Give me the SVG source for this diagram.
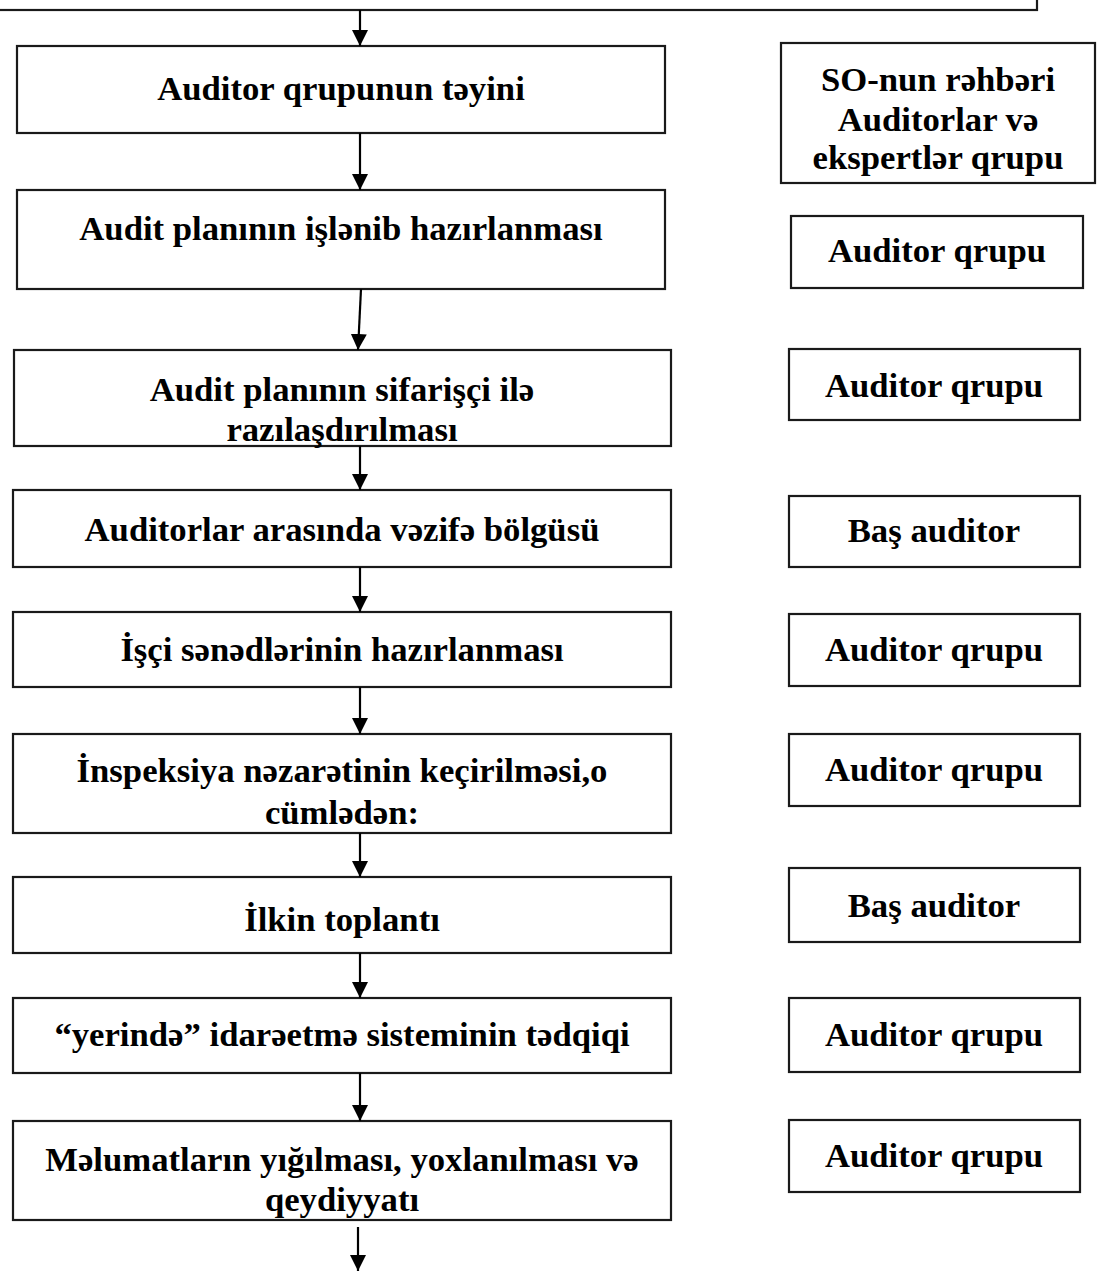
<svg xmlns="http://www.w3.org/2000/svg" width="1099" height="1271" viewBox="0 0 1099 1271">
<style>
.box{fill:#fff;stroke:#1a1a1a;stroke-width:2.2}
.t{font-family:"Liberation Serif","Times New Roman",serif;font-weight:bold;font-size:34.7px;fill:#000;text-anchor:middle}
.c{stroke:#000;stroke-width:2.2;fill:none;marker-end:url(#ah)}
</style>
<defs>
<marker id="ah" markerUnits="userSpaceOnUse" markerWidth="16" markerHeight="16" refX="16" refY="8" orient="auto">
<path d="M0,0 L16,8 L0,16 z" fill="#000"/>
</marker>
</defs>
<rect width="1099" height="1271" fill="#fff"/>
<g font-family="Liberation Serif, Times New Roman, serif" font-weight="bold">
<g id="top"><rect class="box" x="-10" y="-30" width="1047" height="40"/></g>
<g id="n1"><rect class="box" x="17" y="46" width="648" height="87"/><text class="t" x="341" y="100">Auditor qrupunun təyini</text></g>
<g id="r1"><rect class="box" x="781" y="43" width="314" height="140"/><text class="t" x="938" y="91">SO-nun rəhbəri</text><text class="t" x="938" y="131">Auditorlar və</text><text class="t" x="938" y="169">ekspertlər qrupu</text></g>
<g id="n2"><rect class="box" x="17" y="190" width="648" height="99"/><text class="t" x="341" y="240">Audit planının işlənib hazırlanması</text></g>
<g id="r2"><rect class="box" x="791" y="216" width="292" height="72"/><text class="t" x="937" y="262">Auditor qrupu</text></g>
<g id="n3"><rect class="box" x="14" y="350" width="657" height="96"/><text class="t" x="342" y="401">Audit planının sifarişçi ilə</text><text class="t" x="342" y="441">razılaşdırılması</text></g>
<g id="r3"><rect class="box" x="789" y="349" width="291" height="71"/><text class="t" x="934" y="397">Auditor qrupu</text></g>
<g id="n4"><rect class="box" x="13" y="490" width="658" height="77"/><text class="t" x="342" y="541">Auditorlar arasında vəzifə bölgüsü</text></g>
<g id="r4"><rect class="box" x="789" y="496" width="291" height="71"/><text class="t" x="934" y="542">Baş auditor</text></g>
<g id="n5"><rect class="box" x="13" y="612" width="658" height="75"/><text class="t" x="342" y="661">İşçi sənədlərinin hazırlanması</text></g>
<g id="r5"><rect class="box" x="789" y="614" width="291" height="72"/><text class="t" x="934" y="661">Auditor qrupu</text></g>
<g id="n6"><rect class="box" x="13" y="734" width="658" height="99"/><text class="t" x="342" y="782">İnspeksiya nəzarətinin keçirilməsi,o</text><text class="t" x="342" y="824">cümlədən:</text></g>
<g id="r6"><rect class="box" x="789" y="734" width="291" height="72"/><text class="t" x="934" y="781">Auditor qrupu</text></g>
<g id="n7"><rect class="box" x="13" y="877" width="658" height="76"/><text class="t" x="342" y="931">İlkin toplantı</text></g>
<g id="r7"><rect class="box" x="789" y="868" width="291" height="74"/><text class="t" x="934" y="917">Baş auditor</text></g>
<g id="n8"><rect class="box" x="13" y="998" width="658" height="75"/><text class="t" x="342" y="1046">“yerində” idarəetmə sisteminin tədqiqi</text></g>
<g id="r8"><rect class="box" x="789" y="998" width="291" height="74"/><text class="t" x="934" y="1046">Auditor qrupu</text></g>
<g id="n9"><rect class="box" x="13" y="1121" width="658" height="99"/><text class="t" x="342" y="1171">Məlumatların yığılması, yoxlanılması və</text><text class="t" x="342" y="1211">qeydiyyatı</text></g>
<g id="r9"><rect class="box" x="789" y="1120" width="291" height="72"/><text class="t" x="934" y="1167">Auditor qrupu</text></g>
</g>
<g id="connectors">
<line class="c" x1="360" y1="10" x2="360" y2="46"/>
<line class="c" x1="360" y1="133" x2="360" y2="190"/>
<line class="c" x1="361" y1="289" x2="358" y2="350"/>
<line class="c" x1="360" y1="446" x2="360" y2="490"/>
<line class="c" x1="360" y1="567" x2="360" y2="612"/>
<line class="c" x1="360" y1="687" x2="360" y2="734"/>
<line class="c" x1="360" y1="833" x2="360" y2="877"/>
<line class="c" x1="360" y1="953" x2="360" y2="998"/>
<line class="c" x1="360" y1="1073" x2="360" y2="1121"/>
<line class="c" x1="358" y1="1227" x2="358" y2="1271"/>
</g>
</svg>
